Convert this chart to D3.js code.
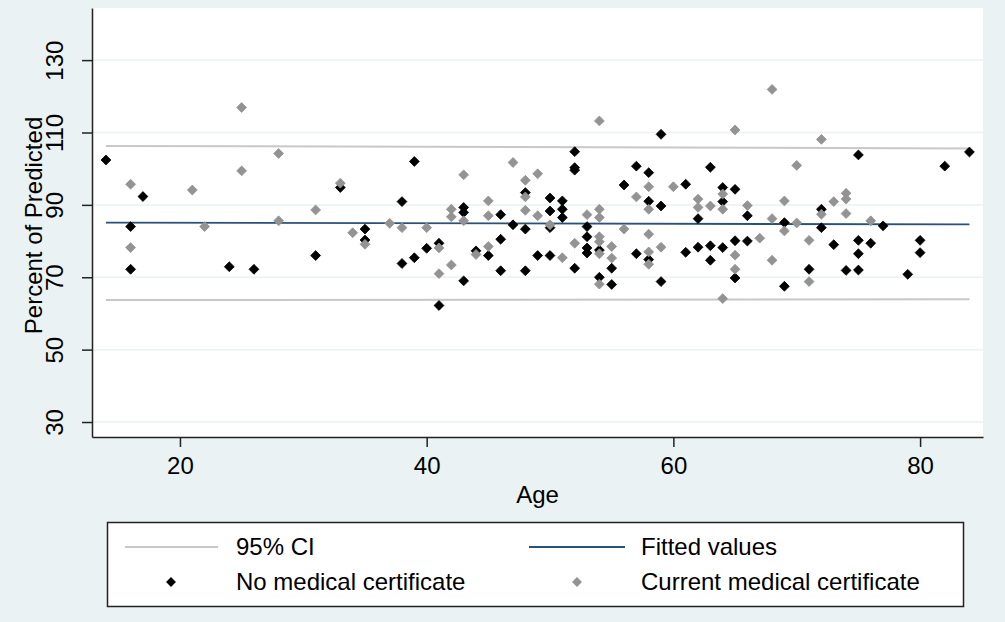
<!DOCTYPE html>
<html>
<head>
<meta charset="utf-8">
<script src="https://cdn.jsdelivr.net/npm/d3@7"></script>
<style>
  html, body { margin: 0; padding: 0; background: #eaf2f3; }
  svg { display: block; }
  text { font-family: "Liberation Sans", Arial, sans-serif; fill: #000; }
</style>
</head>
<body>
<svg id="chart" width="1005" height="622"></svg>
<script>
// ---- data ----
const xTicks = [20, 40, 60, 80];
const yTicks = [30, 50, 70, 90, 110, 130];
const xTitle = "Age";
const yTitle = "Percent of Predicted";
const legendLabels = ["95% CI", "Fitted values", "No medical certificate", "Current medical certificate"];

// linear fit and 95% CI (endpoints)
const fitAges = [14, 84];
const fitValues = [85.1, 84.6];
const ciUpper = [106.3, 105.6];
const ciLower = [63.7, 63.9];

// No medical certificate: ages and percent predicted
const noCertAge = [14, 16, 16, 17, 24, 26, 31, 33, 35, 35, 38, 38, 39, 39, 40, 41, 41,
  43, 43, 43, 44, 45, 46, 46, 46, 47, 48, 48, 48, 49, 50, 50, 50, 50, 51, 51, 51,
  52, 52, 52, 52, 53, 53, 53, 53, 54, 54, 55, 55, 56, 57, 57, 58, 58, 58, 59, 59, 59,
  61, 61, 62, 62, 63, 63, 63, 64, 64, 64, 65, 65, 65, 66, 66, 69, 69, 71, 72, 72, 73,
  74, 75, 75, 75, 75, 76, 77, 79, 80, 80, 82, 84];
const noCertVal = [102.4, 84.0, 72.2, 92.3, 72.9, 72.2, 76.0, 94.8, 83.3, 80.3, 90.9, 73.8, 102.0, 75.4, 78.0, 79.4, 62.2,
  89.3, 87.9, 69.0, 77.3, 76.0, 87.3, 80.5, 71.8, 84.5, 93.4, 83.3, 71.8, 76.0, 91.9, 88.3, 83.7, 76.0, 91.1, 88.8, 86.5,
  104.7, 100.3, 99.6, 72.5, 84.0, 81.2, 78.1, 76.7, 77.5, 70.0, 72.5, 68.0, 95.5, 100.7, 76.5, 98.9, 91.0, 74.9, 109.5, 89.7, 68.8,
  95.7, 76.9, 86.2, 78.3, 100.4, 78.7, 74.7, 94.8, 90.9, 78.2, 94.3, 80.1, 69.8, 87.0, 80.0, 85.1, 67.5, 72.2, 88.8, 83.7, 79.0,
  71.9, 103.8, 80.2, 76.5, 72.0, 79.4, 84.2, 70.8, 80.2, 76.8, 100.7, 104.6];

// Current medical certificate
const certAge = [16, 16, 21, 22, 25, 25, 28, 28, 31, 33, 34, 35, 37, 38, 40, 41, 41,
  42, 42, 42, 43, 43, 44, 45, 45, 45, 47, 48, 48, 48, 49, 49, 50, 51, 52, 53,
  54, 54, 54, 54, 54, 54, 54, 55, 55, 56, 57, 58, 58, 58, 58, 58, 59, 60,
  62, 62, 63, 64, 64, 64, 65, 65, 65, 66, 67, 68, 68, 68, 69, 69, 70, 70, 71, 71,
  72, 72, 73, 74, 74, 74, 76];
const certVal = [95.7, 78.2, 94.1, 84.0, 116.9, 99.4, 104.2, 85.6, 88.6, 96.0, 82.3, 79.1, 84.9, 83.7, 83.7, 78.1, 71.0,
  88.8, 86.7, 73.4, 98.3, 85.6, 76.3, 91.1, 87.0, 78.5, 101.7, 96.8, 92.2, 88.5, 98.6, 87.0, 84.5, 75.4, 79.4, 87.3,
  113.2, 88.8, 86.5, 81.2, 79.8, 76.5, 68.1, 78.5, 75.3, 83.3, 92.2, 95.0, 88.8, 81.9, 77.0, 73.6, 78.3, 95.0,
  91.6, 89.3, 89.7, 93.0, 88.8, 64.1, 110.7, 76.1, 72.2, 89.8, 80.8, 121.9, 86.2, 74.7, 91.1, 82.8, 100.9, 85.0, 80.2, 68.8,
  108.1, 87.4, 90.9, 93.2, 91.6, 87.6, 85.6];

// ---- layout ----
const W = 1005, H = 622;
const plot = { left: 92, right: 983, top: 8, bottom: 437 };
const FONT = 24;
const GRAY = "#939393";

const svg = d3.select("#chart");
const x = d3.scaleLinear().domain([12.87, 85.1]).range([plot.left, plot.right]);
const y = d3.scaleLinear().domain([25.86, 144.4]).range([plot.bottom, plot.top]);

svg.append("rect").attr("width", W).attr("height", H).attr("fill", "#eaf2f3");
svg.append("rect")
  .attr("x", plot.left).attr("y", plot.top)
  .attr("width", plot.right - plot.left).attr("height", plot.bottom - plot.top)
  .attr("fill", "#ffffff");

// gridlines
svg.append("g").selectAll("line").data(yTicks).join("line")
  .attr("x1", plot.left).attr("x2", plot.right)
  .attr("y1", d => y(d)).attr("y2", d => y(d))
  .attr("stroke", "#eaf2f3").attr("stroke-width", 1.5);

// CI lines and fit
const lineGen = d3.line().x(d => x(d[0])).y(d => y(d[1]));
const mk = vals => fitAges.map((a, i) => [a, vals[i]]);
svg.append("path").attr("d", lineGen(mk(ciUpper))).attr("fill", "none").attr("stroke", "#c8c8c8").attr("stroke-width", 2);
svg.append("path").attr("d", lineGen(mk(ciLower))).attr("fill", "none").attr("stroke", "#c8c8c8").attr("stroke-width", 2);
svg.append("path").attr("d", lineGen(mk(fitValues))).attr("fill", "none").attr("stroke", "#2a5279").attr("stroke-width", 1.8);

// markers
const diamond = d3.symbol().type(d3.symbolDiamond2).size(62);
svg.append("g").selectAll("path").data(noCertAge.map((a, i) => [a, noCertVal[i]])).join("path")
  .attr("d", diamond)
  .attr("transform", d => `translate(${x(d[0])},${y(d[1])})`)
  .attr("fill", "#000000").attr("stroke", "#000").attr("stroke-width", 0.8);
svg.append("g").selectAll("path").data(certAge.map((a, i) => [a, certVal[i]])).join("path")
  .attr("d", diamond)
  .attr("transform", d => `translate(${x(d[0])},${y(d[1])})`)
  .attr("fill", GRAY).attr("stroke", GRAY).attr("stroke-width", 0.8);

// axes
const xAxis = svg.append("g").attr("transform", `translate(0,${plot.bottom})`)
  .call(d3.axisBottom(x).tickValues(xTicks).tickSize(10).tickPadding(10).tickSizeOuter(0));
xAxis.select(".domain").attr("stroke", "#222").attr("stroke-width", 1.5);
xAxis.selectAll(".tick line").attr("stroke", "#222").attr("stroke-width", 1.5);
xAxis.selectAll(".tick text").attr("font-size", FONT).attr("font-family", "Liberation Sans, Arial, sans-serif").attr("fill", "#000");

const yAxis = svg.append("g").attr("transform", `translate(${plot.left},0)`)
  .call(d3.axisLeft(y).tickValues(yTicks).tickSize(10).tickSizeOuter(0));
yAxis.select(".domain").attr("stroke", "#222").attr("stroke-width", 1.5);
yAxis.selectAll(".tick line").attr("stroke", "#222").attr("stroke-width", 1.5);
yAxis.selectAll(".tick text")
  .attr("font-size", FONT).attr("font-family", "Liberation Sans, Arial, sans-serif").attr("fill", "#000")
  .attr("x", null).attr("dy", null)
  .attr("text-anchor", "middle")
  .attr("transform", "translate(-29,0) rotate(-90)")
  .attr("y", 0);

// axis titles
svg.append("text").attr("x", (plot.left + plot.right) / 2).attr("y", 503)
  .attr("text-anchor", "middle").attr("font-size", FONT).text(xTitle);
svg.append("text")
  .attr("transform", `translate(42,${(plot.top + plot.bottom) / 2 + 3}) rotate(-90)`)
  .attr("text-anchor", "middle").attr("font-size", FONT).text(yTitle);

// legend
const lg = svg.append("g");
lg.append("rect").attr("x", 107.5).attr("y", 522.5).attr("width", 856).attr("height", 84)
  .attr("fill", "#fff").attr("stroke", "#222").attr("stroke-width", 1.5);
const row1 = 547, row2 = 582;
lg.append("line").attr("x1", 125).attr("x2", 218).attr("y1", row1).attr("y2", row1).attr("stroke", "#c8c8c8").attr("stroke-width", 2);
lg.append("line").attr("x1", 529).attr("x2", 625).attr("y1", row1).attr("y2", row1).attr("stroke", "#2a5279").attr("stroke-width", 1.8);
lg.append("path").attr("d", diamond).attr("transform", `translate(171,${row2})`).attr("fill", "#000");
lg.append("path").attr("d", diamond).attr("transform", `translate(577,${row2})`).attr("fill", GRAY);
const lpos = [[236, row1], [641, row1], [236, row2], [641, row2]];
lg.selectAll("text.leg").data(legendLabels).join("text").attr("class", "leg")
  .attr("x", (d, i) => lpos[i][0]).attr("y", (d, i) => lpos[i][1] + 8)
  .attr("font-size", FONT).text(d => d);
</script>
</body>
</html>
